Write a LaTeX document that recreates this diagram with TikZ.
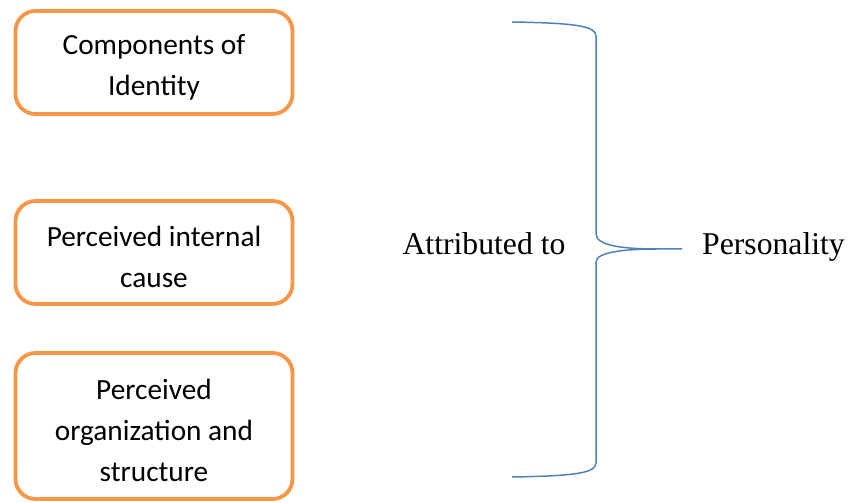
\documentclass[tikz,border=0pt]{standalone}
\usepackage{fontspec}
\setmainfont{Liberation Serif}
\newfontfamily\boxfont{Carlito}
\definecolor{boxorange}{HTML}{F79646}
\definecolor{braceblue}{HTML}{4F81BD}
\newcommand{\firstline}{\rule{0pt}{29pt}}

\begin{document}
\begin{tikzpicture}[x=1pt,y=1pt,
	idbox/.style={draw=boxorange,line width=3.8pt,rounded corners=20pt,minimum width=277pt,inner sep=0pt,align=center,font=\boxfont\fontsize{29.3}{41}\selectfont},
	sidetext/.style={anchor=base,font=\fontsize{31.7}{36}\selectfont}]
			\useasboundingbox (0,0) rectangle (849,503);
			\node[idbox,minimum height=103pt] (Components) at (154,440.5) {\firstline Components of\\Identity};
			\node[idbox,minimum height=103pt] (InternalCause) at (154,250.5) {\firstline Perceived internal\\cause};
			\node[idbox,minimum height=146pt] (Organization) at (154,77) {\firstline Perceived\\organization and\\structure};
			
			\node[sidetext] (Attributed) at (484,248) {Attributed to};
			\node[sidetext] (Personality) at (773.5,248) {Personality};
			
			\coordinate (BraceTop) at (512,481);
			\coordinate (BraceTip) at (682,254);
			\coordinate (BraceBottom) at (512,26);
			\draw[braceblue,line width=1.5pt] (BraceTop) .. controls (575,480) and (596,477) .. (596,467)
				-- (596,269) .. controls (596,257) and (625,254) .. (657,254) -- (BraceTip);
			\draw[braceblue,line width=1.5pt] (BraceBottom) .. controls (575,27) and (596,30) .. (596,40)
				-- (596,241) .. controls (596,251) and (625,254) .. (657,254);
				
				\end{tikzpicture}
\end{document}
